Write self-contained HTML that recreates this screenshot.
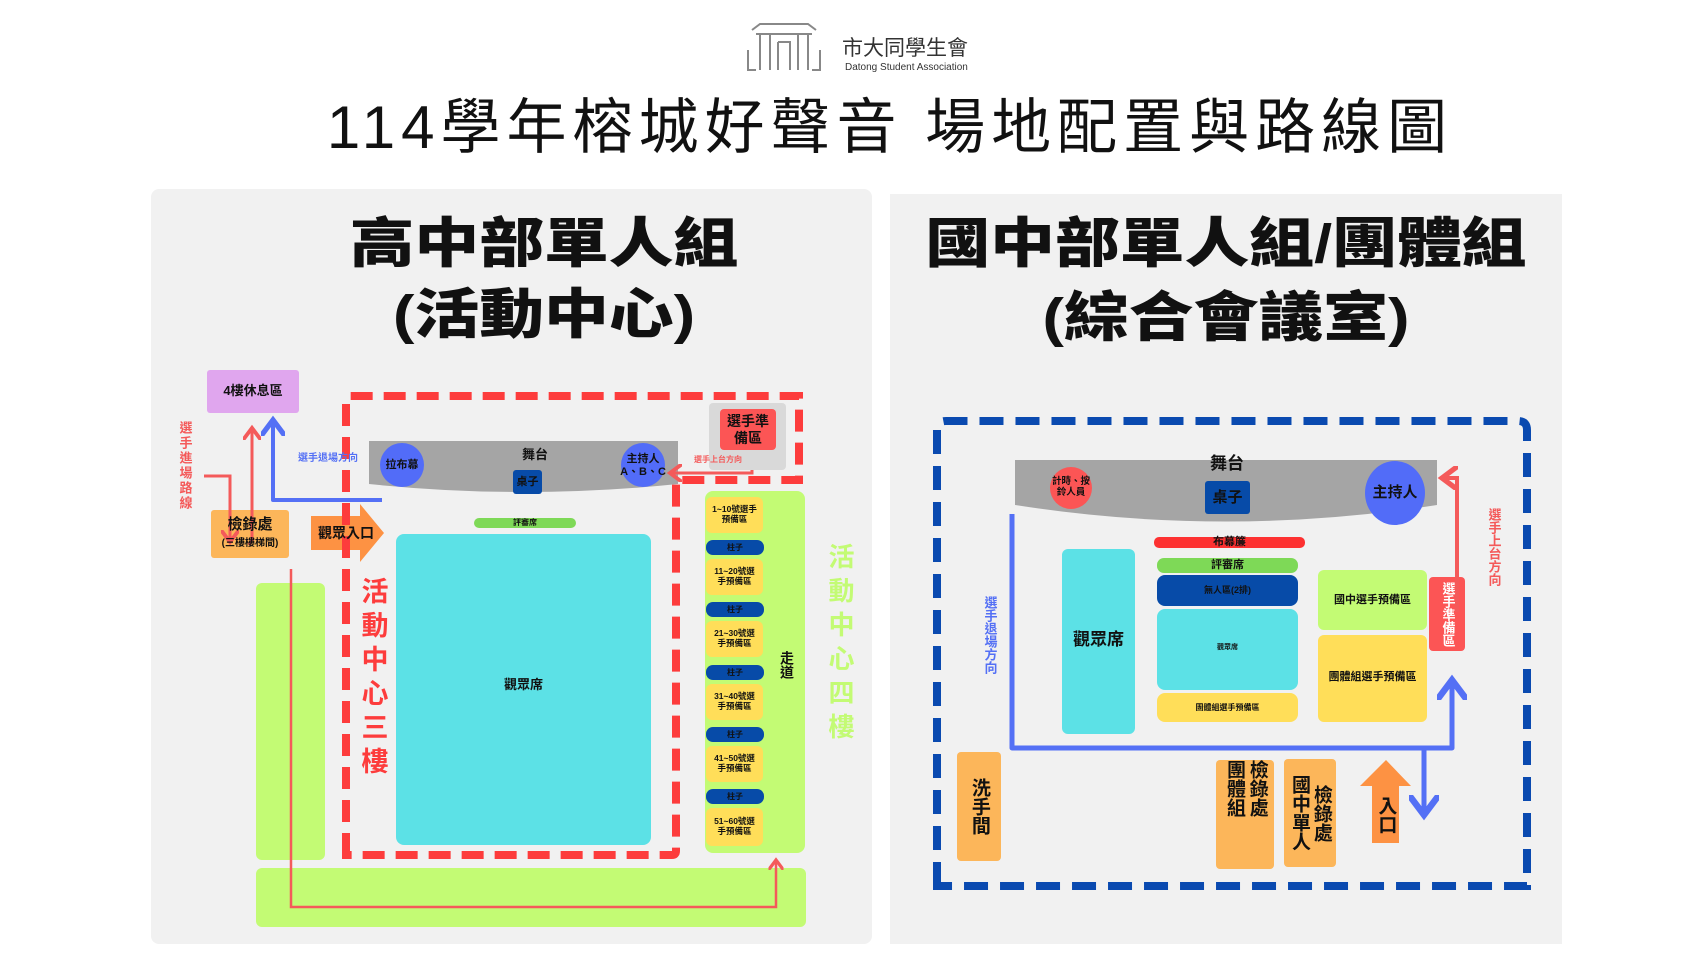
<!DOCTYPE html>
<html><head><meta charset="utf-8">
<style>
body{margin:0;width:1706px;height:960px;background:#fff;position:relative;overflow:hidden;font-family:"Liberation Sans","Noto Sans CJK TC",sans-serif;}
.a{position:absolute;}
.t{position:absolute;display:flex;align-items:center;justify-content:center;text-align:center;font-weight:bold;color:#111;line-height:1.15;}
.v{writing-mode:vertical-rl;text-orientation:upright;}
.h{transform:scaleX(1.2);}
svg{position:absolute;left:0;top:0;}
</style></head><body>
<svg width="1706" height="960" viewBox="0 0 1706 960">
<defs>
<marker id="rh" markerWidth="6" markerHeight="6" refX="4" refY="3" orient="auto" markerUnits="strokeWidth"><path d="M0,0 L4,3 L0,6" fill="none" stroke="#f45a5a" stroke-width="1.3"/></marker>
<marker id="bh" markerWidth="6" markerHeight="6" refX="4" refY="3" orient="auto" markerUnits="strokeWidth"><path d="M0,0 L4,3 L0,6" fill="none" stroke="#5470f5" stroke-width="1.3"/></marker>
</defs>
<rect x="151" y="189" width="721" height="755" rx="8" fill="#f1f1f1"/>
<rect x="890" y="194" width="672" height="750" fill="#f1f1f1"/>
<g stroke="#888" stroke-width="2" fill="none">
<path d="M752,30 L760,24 L808,24 L816,30"/><path d="M756,34 L812,34"/>
<path d="M760,34 L760,70 M770,34 L770,70 M798,34 L798,70 M808,34 L808,70 M778,42 L790,42 L790,70 M778,42 L778,70"/>
<path d="M748,50 L748,70 L756,70 M820,50 L820,70 L812,70"/>
</g>
<rect x="256" y="583" width="69" height="277" rx="6" fill="#c3fb74"/>
<rect x="256" y="868" width="550" height="59" rx="6" fill="#c3fb74"/>
<rect x="705" y="491" width="100" height="362" rx="8" fill="#c3fb74"/>
<rect x="207" y="370" width="92" height="43" rx="3" fill="#e0a6ee"/>
<rect x="211" y="510" width="78" height="48" rx="3" fill="#fcb65a"/>
<path d="M311,516 L360,516 L360,504 L384,533 L360,562 L360,550 L311,550 Z" fill="#fd9243"/>
<path d="M346,855 L346,400 Q346,396 350,396 L799,396 L799,480 L676,480 L676,851 Q676,855 672,855 Z" fill="none" stroke="#fd3c3c" stroke-width="8" stroke-dasharray="22,11"/>
<path d="M369,441 L678,441 L678,484 Q523,500 369,484 Z" fill="#a5a5a5"/>
<rect x="709" y="403" width="77" height="67" rx="4" fill="#d9d9d9"/>
<rect x="720" y="409" width="56" height="41" rx="4" fill="#fc5555"/>
<circle cx="402" cy="465" r="22" fill="#526cf8"/>
<circle cx="643" cy="465" r="22" fill="#526cf8"/>
<rect x="513" y="470" width="29" height="24" rx="3" fill="#074ba8"/>
<rect x="474" y="518" width="102" height="10" rx="5" fill="#7ed957"/>
<rect x="396" y="534" width="255" height="311" rx="8" fill="#5ce1e6"/>
<g fill="#ffde59">
<rect x="706" y="497" width="57" height="36" rx="6"/><rect x="706" y="559" width="57" height="36" rx="6"/><rect x="706" y="621" width="57" height="36" rx="6"/><rect x="706" y="684" width="57" height="36" rx="6"/><rect x="706" y="746" width="57" height="36" rx="6"/><rect x="706" y="808" width="57" height="38" rx="6"/>
</g>
<g fill="#074ba8">
<rect x="706" y="540" width="58" height="15" rx="7"/><rect x="706" y="602" width="58" height="15" rx="7"/><rect x="706" y="665" width="58" height="15" rx="7"/><rect x="706" y="727" width="58" height="15" rx="7"/><rect x="706" y="789" width="58" height="15" rx="7"/>
</g>
<path d="M204,476 L230,476 L230,542" fill="none" stroke="#f45a5a" stroke-width="3" marker-end="url(#rh)"/>
<path d="M249,545 L252,540 L252,428" fill="none" stroke="#f45a5a" stroke-width="3" marker-end="url(#rh)"/>
<path d="M382,500 L273,500 L273,420" fill="none" stroke="#5470f5" stroke-width="4" stroke-linejoin="round" marker-end="url(#bh)"/>
<path d="M752,470 L752,473 L670,473" fill="none" stroke="#f45a5a" stroke-width="3" marker-end="url(#rh)"/>
<path d="M291,569 L291,907 L776,907 L776,860" fill="none" stroke="#f45a5a" stroke-width="2.5" marker-end="url(#rh)"/>
<path d="M937,886 L937,430 Q937,421 946,421 L1518,421 Q1527,421 1527,430 L1527,886 Z" fill="none" stroke="#0a4ab0" stroke-width="8" stroke-dasharray="24,12"/>
<path d="M1015,460 L1437,460 L1437,505 Q1226,538 1015,505 Z" fill="#a5a5a5"/>
<circle cx="1071" cy="488" r="21" fill="#fc5555"/>
<rect x="1205" y="481" width="45" height="33" rx="3" fill="#074ba8"/>
<ellipse cx="1395" cy="493" rx="30" ry="32" fill="#526cf8"/>
<rect x="1154" y="537" width="151" height="11" rx="5" fill="#fd3131"/>
<rect x="1157" y="558" width="141" height="15" rx="7" fill="#7ed957"/>
<rect x="1157" y="575" width="141" height="31" rx="8" fill="#074ba8"/>
<rect x="1157" y="609" width="141" height="81" rx="8" fill="#5ce1e6"/>
<rect x="1157" y="693" width="141" height="29" rx="8" fill="#ffde59"/>
<rect x="1062" y="549" width="73" height="185" rx="6" fill="#5ce1e6"/>
<rect x="1318" y="570" width="109" height="60" rx="6" fill="#c3fb74"/>
<rect x="1318" y="635" width="109" height="87" rx="6" fill="#ffde59"/>
<rect x="1429" y="577" width="36" height="74" rx="4" fill="#fc5555"/>
<rect x="957" y="752" width="44" height="109" rx="4" fill="#fcb65a"/>
<rect x="1216" y="760" width="58" height="109" rx="4" fill="#fcb65a"/>
<rect x="1284" y="759" width="52" height="108" rx="4" fill="#fcb65a"/>
<path d="M1372,843 L1372,786 L1360,786 L1386,760 L1411,786 L1399,786 L1399,843 Z" fill="#fd9243"/>
<path d="M1457,612 L1457,478 L1442,478" fill="none" stroke="#f45a5a" stroke-width="4" marker-end="url(#rh)"/>
<path d="M1012,514 L1012,748 L1452,748 L1452,680" fill="none" stroke="#5470f5" stroke-width="5" stroke-linejoin="round" marker-end="url(#bh)"/>
<path d="M1424,748 L1424,815" fill="none" stroke="#5470f5" stroke-width="5" marker-end="url(#bh)"/>
</svg>

<div class="a" style="left:842px;top:32px;font-size:21px;color:#333;font-family:'Noto Sans CJK TC',sans-serif">市大同學生會</div>
<div class="a" style="left:845px;top:62px;font-size:10px;color:#333">Datong Student Association</div>
<div class="t" style="left:260px;top:92px;width:1260px;height:70px;font-size:60px;font-weight:normal;letter-spacing:6px">114學年榕城好聲音 場地配置與路線圖</div>
<div class="t h" style="left:300px;top:212px;width:488px;height:64px;font-size:54px;font-weight:900">高中部單人組</div>
<div class="t h" style="left:300px;top:283px;width:488px;height:64px;font-size:54px;font-weight:900">(活動中心)</div>
<div class="t h" style="left:890px;top:212px;width:672px;height:64px;font-size:54px;font-weight:900">國中部單人組/團體組</div>
<div class="t h" style="left:890px;top:286px;width:672px;height:64px;font-size:54px;font-weight:900">(綜合會議室)</div>

<div class="t" style="left:207px;top:370px;width:92px;height:43px;font-size:13px">4樓休息區</div>
<div class="t v" style="left:174px;top:408px;width:20px;height:115px;font-size:13px;color:#f45a5a;letter-spacing:2px">選手進場路線</div>
<div class="t" style="left:211px;top:512px;width:78px;height:26px;font-size:15px">檢錄處</div>
<div class="t" style="left:211px;top:536px;width:78px;height:16px;font-size:10px">(三樓樓梯間)</div>
<div class="t" style="left:311px;top:520px;width:70px;height:26px;font-size:14px">觀眾入口</div>
<div class="t v" style="left:355px;top:566px;width:34px;height:226px;font-size:27px;color:#fd3c3c;letter-spacing:7px">活動中心三樓</div>
<div class="t" style="left:288px;top:451px;width:80px;height:16px;font-size:10px;color:#5470f5">選手退場方向</div>
<div class="t" style="left:380px;top:456px;width:44px;height:18px;font-size:11px">拉布幕</div>
<div class="t" style="left:505px;top:446px;width:60px;height:18px;font-size:13px">舞台</div>
<div class="t" style="left:513px;top:470px;width:29px;height:24px;font-size:11px">桌子</div>
<div class="t" style="left:615px;top:450px;width:56px;height:32px;font-size:11px">主持人<br>A、B、C</div>
<div class="t" style="left:720px;top:409px;width:56px;height:41px;font-size:14px">選手準<br>備區</div>
<div class="t" style="left:686px;top:453px;width:64px;height:14px;font-size:8px;color:#f45a5a">選手上台方向</div>
<div class="t" style="left:474px;top:516px;width:102px;height:14px;font-size:8px">評審席</div>
<div class="t" style="left:396px;top:670px;width:255px;height:30px;font-size:13px">觀眾席</div>
<div class="t" style="left:706px;top:497px;width:57px;height:36px;font-size:8.5px">1~10號選手<br>預備區</div>
<div class="t" style="left:706px;top:559px;width:57px;height:36px;font-size:8.5px">11~20號選<br>手預備區</div>
<div class="t" style="left:706px;top:621px;width:57px;height:36px;font-size:8.5px">21~30號選<br>手預備區</div>
<div class="t" style="left:706px;top:684px;width:57px;height:36px;font-size:8.5px">31~40號選<br>手預備區</div>
<div class="t" style="left:706px;top:746px;width:57px;height:36px;font-size:8.5px">41~50號選<br>手預備區</div>
<div class="t" style="left:706px;top:808px;width:57px;height:38px;font-size:8.5px">51~60號選<br>手預備區</div>
<div class="t" style="left:706px;top:540px;width:58px;height:15px;font-size:8px">柱子</div>
<div class="t" style="left:706px;top:602px;width:58px;height:15px;font-size:8px">柱子</div>
<div class="t" style="left:706px;top:665px;width:58px;height:15px;font-size:8px">柱子</div>
<div class="t" style="left:706px;top:727px;width:58px;height:15px;font-size:8px">柱子</div>
<div class="t" style="left:706px;top:789px;width:58px;height:15px;font-size:8px">柱子</div>
<div class="t v" style="left:778px;top:645px;width:18px;height:40px;font-size:14px">走道</div>
<div class="t v" style="left:822px;top:530px;width:34px;height:230px;font-size:26px;color:#c3fb74;letter-spacing:8px">活動中心四樓</div>

<div class="t" style="left:1195px;top:452px;width:64px;height:24px;font-size:17px">舞台</div>
<div class="t" style="left:1050px;top:472px;width:42px;height:32px;font-size:9.5px">計時、按<br>鈴人員</div>
<div class="t" style="left:1205px;top:481px;width:45px;height:33px;font-size:15px">桌子</div>
<div class="t" style="left:1365px;top:480px;width:60px;height:26px;font-size:15px">主持人</div>
<div class="t" style="left:1154px;top:535px;width:151px;height:15px;font-size:11px">布幕簾</div>
<div class="t" style="left:1157px;top:558px;width:141px;height:15px;font-size:11px">評審席</div>
<div class="t" style="left:1157px;top:575px;width:141px;height:31px;font-size:9px">無人區(2排)</div>
<div class="t" style="left:1157px;top:636px;width:141px;height:24px;font-size:7px">觀眾席</div>
<div class="t" style="left:1157px;top:693px;width:141px;height:29px;font-size:8px">團體組選手預備區</div>
<div class="t" style="left:1062px;top:625px;width:73px;height:30px;font-size:17px">觀眾席</div>
<div class="t" style="left:1318px;top:585px;width:109px;height:30px;font-size:11px">國中選手預備區</div>
<div class="t" style="left:1318px;top:662px;width:109px;height:30px;font-size:11px">團體組選手預備區</div>
<div class="t v" style="left:1429px;top:577px;width:36px;height:74px;font-size:13px;color:#fff">選手準備區</div>
<div class="t v" style="left:1483px;top:500px;width:20px;height:94px;font-size:13px;color:#f45a5a">選手上台方向</div>
<div class="t v" style="left:979px;top:588px;width:20px;height:94px;font-size:13px;color:#5470f5">選手退場方向</div>
<div class="t v" style="left:957px;top:752px;width:44px;height:109px;font-size:19px">洗手間</div>
<div class="t v" style="left:1216px;top:760px;width:58px;height:109px;font-size:19px;line-height:1.2;justify-content:flex-start;padding-top:0">檢錄處<br>團體組</div>
<div class="t v" style="left:1284px;top:759px;width:52px;height:108px;font-size:19px;line-height:1.15">檢錄處<br>國中單人</div>
<div class="t v" style="left:1372px;top:790px;width:27px;height:50px;font-size:19px">入口</div>
</body></html>
